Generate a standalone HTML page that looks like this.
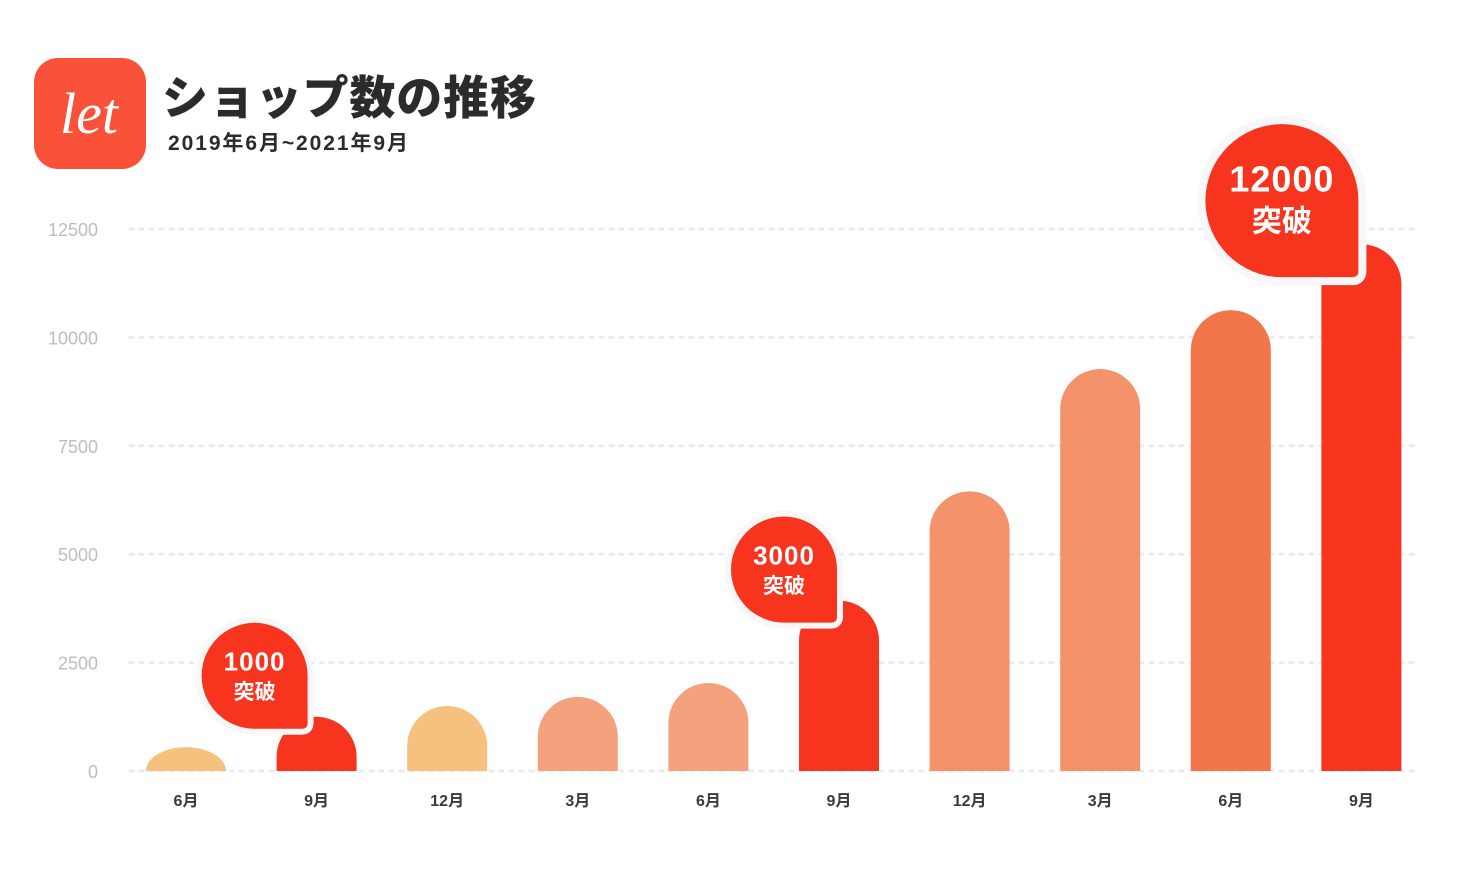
<!DOCTYPE html>
<html><head><meta charset="utf-8"><style>
html,body{margin:0;padding:0;background:#fff;}
body{width:1467px;height:880px;overflow:hidden;font-family:"Liberation Sans","Noto Sans CJK JP",sans-serif;}
</style></head><body>
<svg id="chart" width="1467" height="880" xmlns="http://www.w3.org/2000/svg">
<g>
<rect x="34" y="58" width="112" height="111" rx="24" fill="#f95238"/>
<text x="89" y="133" text-anchor="middle" font-family="Liberation Serif,serif" font-style="italic" font-size="58" fill="#fff">let</text>
</g>
<text x="162" y="114" font-family="'Noto Sans CJK JP',sans-serif" font-weight="900" font-size="46" fill="#2b2b2b" textLength="374">ショップ数の推移</text>
<text x="168" y="150" font-family="'Liberation Sans','Noto Sans CJK JP',sans-serif" font-weight="700" font-size="21" fill="#2b2b2b" textLength="240">2019年6月~2021年9月</text>
<g id="grid"></g><g id="bars"></g><g id="bubbles"></g>
</svg>
<script>
const categories=["6月","9月","12月","3月","6月","9月","12月","3月","6月","9月"];
const values=[550,1250,1500,1710,2030,3930,6450,9270,10630,12150];
const colors=["#f6c17e","#f7341e","#f6c17e","#f4a17e","#f4a17e","#f7341e","#f4936a","#f4936a","#f2764a","#f7341e"];
const yTicks=[0,2500,5000,7500,10000,12500];
const milestoneIndex=[1,5,9];
const milestoneLabels=["1000","3000","12000"];
const bubbleOffsets=[[31,12],[38,22],[37,33]];
const NS="http://www.w3.org/2000/svg";
const y0=771,y1=229,vmax=12500;
const yS=v=>y0-(v/vmax)*(y0-y1);
const xC=i=>186+i*130.6;
const bw=80;
function mk(t,a,p){const e=document.createElementNS(NS,t);for(const k in a)e.setAttribute(k,a[k]);p.appendChild(e);return e;}
const grid=document.getElementById('grid');
yTicks.forEach(t=>{
 const l=mk('line',{x1:130,x2:1420,y1:yS(t),y2:yS(t),stroke:'#ececec','stroke-width':3,'stroke-dasharray':'3 7','stroke-linecap':'round'},grid);
 
 
 const tx=mk('text',{x:98,y:yS(t)+7,'text-anchor':'end','font-size':18,fill:'#bdbdbd'},grid);
 tx.textContent=t;
 
 
});
const bars=document.getElementById('bars');
values.forEach((v,i)=>{
 const x=xC(i)-bw/2,top=yS(v),h=y0-top,r=40,ry=Math.min(40,h);
 const d=`M${x},${y0}V${top+ry}A${r},${ry} 0 0 1 ${x+r},${top}A${r},${ry} 0 0 1 ${x+bw},${top+ry}V${y0}Z`;
 const p=mk('path',{d:d,fill:colors[i]},bars);
 
 
 const t=mk('text',{x:xC(i),y:806,'text-anchor':'middle','font-size':16,'font-weight':700,fill:'#3a3a3a'},bars);
 t.textContent=categories[i];
 
 
});
const bub=document.getElementById('bubbles');
milestoneIndex.forEach((mi,k)=>{
 const big=mi===9;
 const s=big?153:106;
 const bx=xC(mi)-bw/2+bubbleOffsets[k][0], by=yS(values[mi])+bubbleOffsets[k][1];
 const x=bx-s,y=by-s,R=s/2,c=6;
 const d=`M${x+R},${y}A${R},${R} 0 0 1 ${x+s},${y+R}V${by-c}Q${bx},${by} ${bx-c},${by}H${x+R}A${R},${R} 0 0 1 ${x},${y+R}A${R},${R} 0 0 1 ${x+R},${y}Z`;
 const g=mk('g',{},bub);
 
 
 mk('path',{d:d,fill:'#f7341e',stroke:'#f7f7f7','stroke-width':big?16:12,'stroke-linejoin':'round','paint-order':'stroke'},g);
 const t1=mk('text',{x:x+R,y:y+s*(big?0.44:0.45),'text-anchor':'middle','font-size':big?36:26,'font-weight':700,fill:'#fff','letter-spacing':1},g);
 t1.textContent=milestoneLabels[k];
 const t2=mk('text',{x:x+R,y:y+s*(big?0.7:0.72),'text-anchor':'middle','font-size':big?30:21,'font-weight':700,fill:'#fff','font-family':"'Noto Sans CJK JP',sans-serif"},g);
 t2.textContent="突破";
});
</script>
</body></html>
